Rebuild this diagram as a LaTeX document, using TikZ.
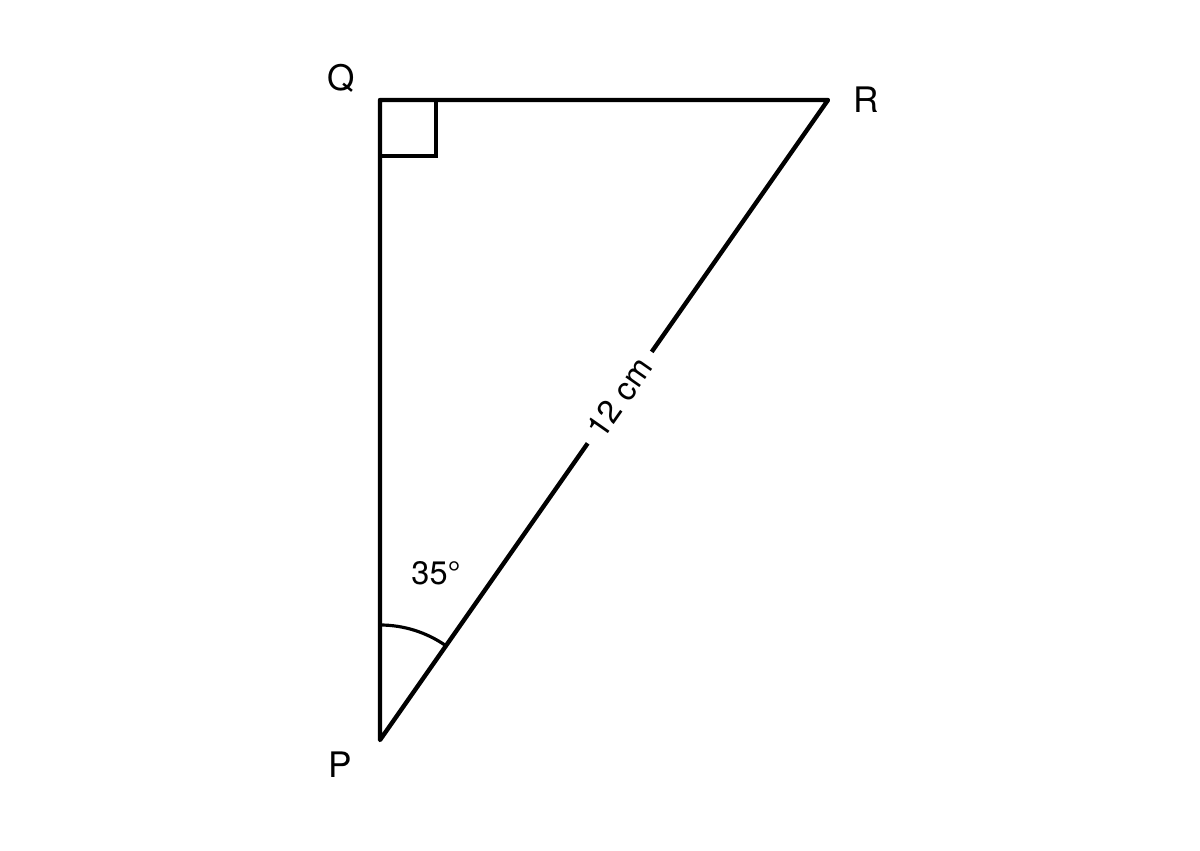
\documentclass[tikz,border=0pt]{standalone}
\usepackage{fontspec}
\setmainfont{TeX Gyre Heros}
\begin{document}
\begin{tikzpicture}[x=0.2mm, y=0.2mm] % Units to match pixels

        % Working area (1200 x 850 px)
        \useasboundingbox (0,0) rectangle (1200,850);

        \def\side{640}  % PQ
        \def\base{448}  % QR
        \def\sq{56}     % right angle mark
        \def\rad{115}   % angle arc

        \tikzset{
            edge/.style={line width=2.5pt, line cap=round, line join=round},
            anglemark/.style={line width=1.8pt},
            vertex/.style={font=\fontsize{20}{24}\selectfont},
            measure/.style={font=\fontsize{18.5}{22}\selectfont}
        }

        % Vertices
        \coordinate (P) at (380,110);
        \coordinate (Q) at (380,110+\side);
        \coordinate (R) at (380+\base,110+\side);

        % Triangle sides
        \draw[edge] (P) -- (Q) -- (R) -- cycle;
        \path (P) -- (R) node[measure, pos=0.535, sloped, fill=white, inner sep=6.5pt] (len) {12 cm};

        % Right angle and angle arc
        \draw[anglemark] (Q) ++(0,-\sq) -| ++(\sq,\sq);
        \draw[anglemark] (P) ++(90:\rad) arc[start angle=90, end angle=55, radius=\rad];

        % Labels
        \node[vertex] (lQ) at (341,772) {Q};
        \node[vertex] (lR) at (866,750) {R};
        \node[vertex] (lP) at (340,85) {P};
        \node[measure] (ang) at (436,277) {35°};

    \end{tikzpicture}
\end{document}
